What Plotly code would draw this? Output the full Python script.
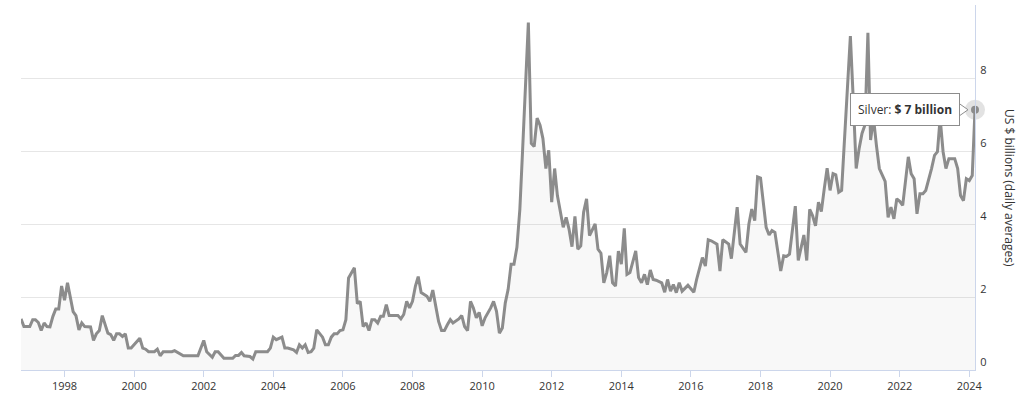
import plotly.graph_objects as go

dates = [
    "1996-10", "1996-11", "1997-01", "1997-02", "1997-03", "1997-04", "1997-05", "1997-06", "1997-07", "1997-08",
    "1997-09", "1997-10", "1997-11", "1997-12", "1998-01", "1998-02", "1998-04", "1998-05", "1998-06", "1998-07",
    "1998-08", "1998-10", "1998-11", "1998-12", "1999-01", "1999-02", "1999-04", "1999-05", "1999-06", "1999-07",
    "1999-08", "1999-09", "1999-10", "1999-11", "1999-12", "2000-03", "2000-04", "2000-05", "2000-06", "2000-08",
    "2000-09", "2000-10", "2000-11", "2001-02", "2001-03", "2001-06", "2001-11", "2001-12", "2002-01", "2002-02",
    "2002-04", "2002-05", "2002-06", "2002-08", "2002-11", "2002-12", "2003-01", "2003-02", "2003-03", "2003-05",
    "2003-06", "2003-07", "2003-11", "2003-12", "2004-01", "2004-02", "2004-04", "2004-05", "2004-06", "2004-08",
    "2004-09", "2004-10", "2004-11", "2004-12", "2005-01", "2005-02", "2005-03", "2005-04", "2005-06", "2005-07",
    "2005-08", "2005-09", "2005-10", "2005-11", "2005-12", "2006-01", "2006-02", "2006-03", "2006-05", "2006-06",
    "2006-07", "2006-08", "2006-09", "2006-10", "2006-11", "2006-12", "2007-01", "2007-02", "2007-03", "2007-04",
    "2007-05", "2007-08", "2007-09", "2007-10", "2007-11", "2007-12", "2008-01", "2008-02", "2008-03", "2008-04",
    "2008-06", "2008-07", "2008-08", "2008-09", "2008-10", "2008-11", "2008-12", "2009-01", "2009-02", "2009-03",
    "2009-05", "2009-06", "2009-07", "2009-08", "2009-09", "2009-10", "2009-11", "2009-12", "2010-01", "2010-02",
    "2010-04", "2010-05", "2010-06", "2010-07", "2010-08", "2010-09", "2010-10", "2010-11", "2010-12", "2011-01",
    "2011-02", "2011-03", "2011-05", "2011-06", "2011-07", "2011-08", "2011-09", "2011-10", "2011-11", "2011-12",
    "2012-01", "2012-02", "2012-03", "2012-05", "2012-06", "2012-07", "2012-08", "2012-09", "2012-10", "2012-11",
    "2012-12", "2013-01", "2013-02", "2013-04", "2013-05", "2013-06", "2013-07", "2013-08", "2013-09", "2013-10",
    "2013-11", "2013-12", "2014-01", "2014-02", "2014-03", "2014-04", "2014-06", "2014-07", "2014-08", "2014-09",
    "2014-10", "2014-11", "2014-12", "2015-01", "2015-03", "2015-04", "2015-05", "2015-06", "2015-07", "2015-08",
    "2015-09", "2015-10", "2015-12", "2016-02", "2016-03", "2016-05", "2016-06", "2016-07", "2016-08", "2016-10",
    "2016-11", "2016-12", "2017-02", "2017-03", "2017-05", "2017-06", "2017-07", "2017-08", "2017-09", "2017-10",
    "2017-11", "2017-12", "2018-01", "2018-03", "2018-04", "2018-05", "2018-06", "2018-07", "2018-08", "2018-09",
    "2018-10", "2018-11", "2019-01", "2019-02", "2019-04", "2019-05", "2019-06", "2019-07", "2019-08", "2019-09",
    "2019-10", "2019-11", "2019-12", "2020-01", "2020-02", "2020-03", "2020-04", "2020-05", "2020-06", "2020-08",
    "2020-09", "2020-10", "2020-11", "2020-12", "2021-01", "2021-02", "2021-03", "2021-04", "2021-05", "2021-06",
    "2021-08", "2021-09", "2021-10", "2021-11", "2021-12", "2022-01", "2022-02", "2022-04", "2022-05", "2022-06",
    "2022-07", "2022-08", "2022-09", "2022-10", "2022-12", "2023-01", "2023-02", "2023-03", "2023-04", "2023-05",
    "2023-06", "2023-08", "2023-09", "2023-10", "2023-11", "2023-12", "2024-01", "2024-02", "2024-03",
]

silver = [
    1.40, 1.19, 1.19, 1.38, 1.38, 1.30, 1.08, 1.29, 1.19, 1.18,
    1.47, 1.67, 1.67, 2.30, 1.91, 2.39, 1.60, 1.49, 1.10, 1.29,
    1.19, 1.18, 0.81, 0.99, 1.08, 1.49, 1.01, 0.97, 0.81, 0.99,
    0.99, 0.92, 0.99, 0.60, 0.60, 0.87, 0.60, 0.57, 0.50, 0.50,
    0.57, 0.39, 0.50, 0.50, 0.53, 0.39, 0.39, 0.58, 0.81, 0.50,
    0.35, 0.50, 0.50, 0.32, 0.32, 0.40, 0.40, 0.48, 0.39, 0.37,
    0.30, 0.50, 0.50, 0.60, 0.90, 0.83, 0.90, 0.60, 0.60, 0.55,
    0.48, 0.69, 0.60, 0.69, 0.48, 0.50, 0.60, 1.10, 0.90, 0.69,
    0.69, 0.90, 0.99, 0.99, 1.08, 1.10, 1.38, 2.52, 2.80, 1.82,
    1.88, 1.19, 1.29, 1.08, 1.38, 1.38, 1.29, 1.47, 1.47, 1.79,
    1.49, 1.49, 1.40, 1.52, 1.88, 1.70, 1.88, 2.30, 2.56, 2.12,
    2.02, 1.88, 2.19, 1.75, 1.33, 1.08, 1.08, 1.24, 1.38, 1.29,
    1.40, 1.49, 1.19, 1.08, 1.88, 1.70, 1.43, 1.58, 1.21, 1.43,
    1.70, 1.88, 1.61, 1.01, 1.15, 1.84, 2.21, 2.90, 2.90, 3.36,
    4.41, 5.98, 9.52, 6.21, 6.12, 6.90, 6.71, 6.34, 5.52, 6.02,
    4.60, 5.52, 4.78, 3.91, 4.18, 3.86, 3.38, 4.21, 3.31, 3.40,
    4.32, 4.69, 3.68, 4.00, 3.31, 3.20, 2.39, 2.67, 3.13, 2.39,
    2.30, 3.26, 2.90, 3.88, 2.62, 2.67, 3.26, 2.53, 2.39, 2.62,
    2.34, 2.74, 2.48, 2.46, 2.39, 2.13, 2.48, 2.16, 2.34, 2.12,
    2.39, 2.16, 2.32, 2.13, 2.48, 3.08, 2.85, 3.57, 3.54, 3.45,
    2.71, 3.57, 3.45, 3.05, 4.46, 3.45, 3.33, 3.22, 4.00, 4.41,
    4.09, 5.29, 5.26, 3.91, 3.70, 3.82, 3.77, 3.22, 2.71, 3.13,
    3.11, 3.17, 4.49, 3.00, 3.70, 3.00, 4.40, 4.23, 3.95, 4.60,
    4.34, 4.97, 5.53, 4.92, 5.38, 5.35, 4.87, 4.92, 6.25, 9.15,
    7.36, 5.52, 6.07, 6.48, 6.71, 9.24, 6.30, 6.90, 6.16, 5.52,
    5.17, 4.18, 4.46, 4.14, 4.69, 4.62, 4.51, 5.84, 5.38, 5.24,
    4.28, 4.83, 4.83, 4.92, 5.52, 5.88, 5.98, 6.90, 5.98, 5.52,
    5.79, 5.79, 5.52, 4.78, 4.64, 5.24, 5.19, 5.33, 7.13,
]

y_ticks = [0, 2, 4, 6, 8, 10]
y_tick_text = ["0", "2", "4", "6", "8", ""]
x_ticks = [str(y) + "-01-01" for y in range(1998, 2025, 2)]
x_tick_text = [str(y) for y in range(1998, 2025, 2)]
series_name = "Silver"
tooltip_value = "$ 7 billion"
y_title = "US $ billions (daily averages)"

FONT = "Open Sans, Noto Sans, Arial, sans-serif"
LINE = "#8c8c8c"
AXIS = "#ccd6eb"
GRID = "#e6e6e6"

fig = go.Figure()
fig.add_trace(go.Scatter(
    x=dates, y=silver, mode="lines", name=series_name,
    line=dict(color=LINE, width=3),
    fill="tozeroy", fillcolor="rgba(140,140,140,0.06)",
    hoverinfo="skip",
))
# highlighted last point with halo
fig.add_trace(go.Scatter(
    x=[dates[-1]], y=[silver[-1]], mode="markers", cliponaxis=False,
    marker=dict(size=20, color="rgba(140,140,140,0.25)", line=dict(width=0)),
    hoverinfo="skip",
))
fig.add_trace(go.Scatter(
    x=[dates[-1]], y=[silver[-1]], mode="markers", cliponaxis=False,
    marker=dict(size=8, color=LINE, line=dict(width=0)),
    hoverinfo="skip",
))

# tooltip box
fig.add_annotation(
    x=dates[-1], y=silver[-1], xref="x", yref="y",
    text=series_name + ": <b>" + tooltip_value + "</b>",
    showarrow=False, xanchor="right", yanchor="middle", xshift=-15,
    font=dict(family=FONT, size=12, color="#333333"),
    bgcolor="#ffffff", bordercolor=LINE, borderwidth=1, borderpad=7,
)
# tooltip pointer
fig.add_shape(
    type="path", xref="x", yref="y", xsizemode="pixel", ysizemode="pixel",
    xanchor=dates[-1], yanchor=silver[-1],
    path="M -15.5 -6 L -7 0 L -15.5 6 Z",
    fillcolor="#ffffff", line=dict(color=LINE, width=1), layer="above",
)
fig.add_shape(
    type="path", xref="x", yref="y", xsizemode="pixel", ysizemode="pixel",
    xanchor=dates[-1], yanchor=silver[-1],
    path="M -16.5 -5 L -16.5 5 L -15 5 L -15 -5 Z",
    fillcolor="#ffffff", line=dict(width=0), layer="above",
)

# y-axis title (reads top to bottom)
fig.add_annotation(
    x=1, y=0.5, xref="paper", yref="paper", xshift=45,
    text=y_title, textangle=90, showarrow=False,
    font=dict(family=FONT, size=12, color="#333333"),
)

fig.update_layout(
    width=1024, height=400,
    margin=dict(l=21, r=49, t=5, b=30),
    paper_bgcolor="#ffffff", plot_bgcolor="#ffffff",
    showlegend=False,
    font=dict(family=FONT, size=11, color="#333333"),
    xaxis=dict(
        type="date", range=[dates[0] + "-01", dates[-1] + "-01"],
        tickvals=x_ticks, ticktext=x_tick_text,
        showgrid=False, zeroline=False,
        showline=True, linecolor=AXIS, linewidth=1,
        ticks="outside", ticklen=6, tickcolor=AXIS,
        tickfont=dict(family=FONT, size=11, color="#333333"),
    ),
    yaxis=dict(
        side="right", range=[0, 10],
        tickvals=y_ticks, ticktext=y_tick_text,
        showgrid=True, gridcolor=GRID, zeroline=False,
        showline=True, linecolor=AXIS, linewidth=1,
        ticks="", ticklabelstandoff=2, ticklabelposition="outside top",
        tickfont=dict(family=FONT, size=11, color="#333333"),
    ),
)

fig.write_html(
    "out.html",
    config={"displayModeBar": False},
    post_script="document.body.style.margin='0';document.body.style.padding='0';",
)
